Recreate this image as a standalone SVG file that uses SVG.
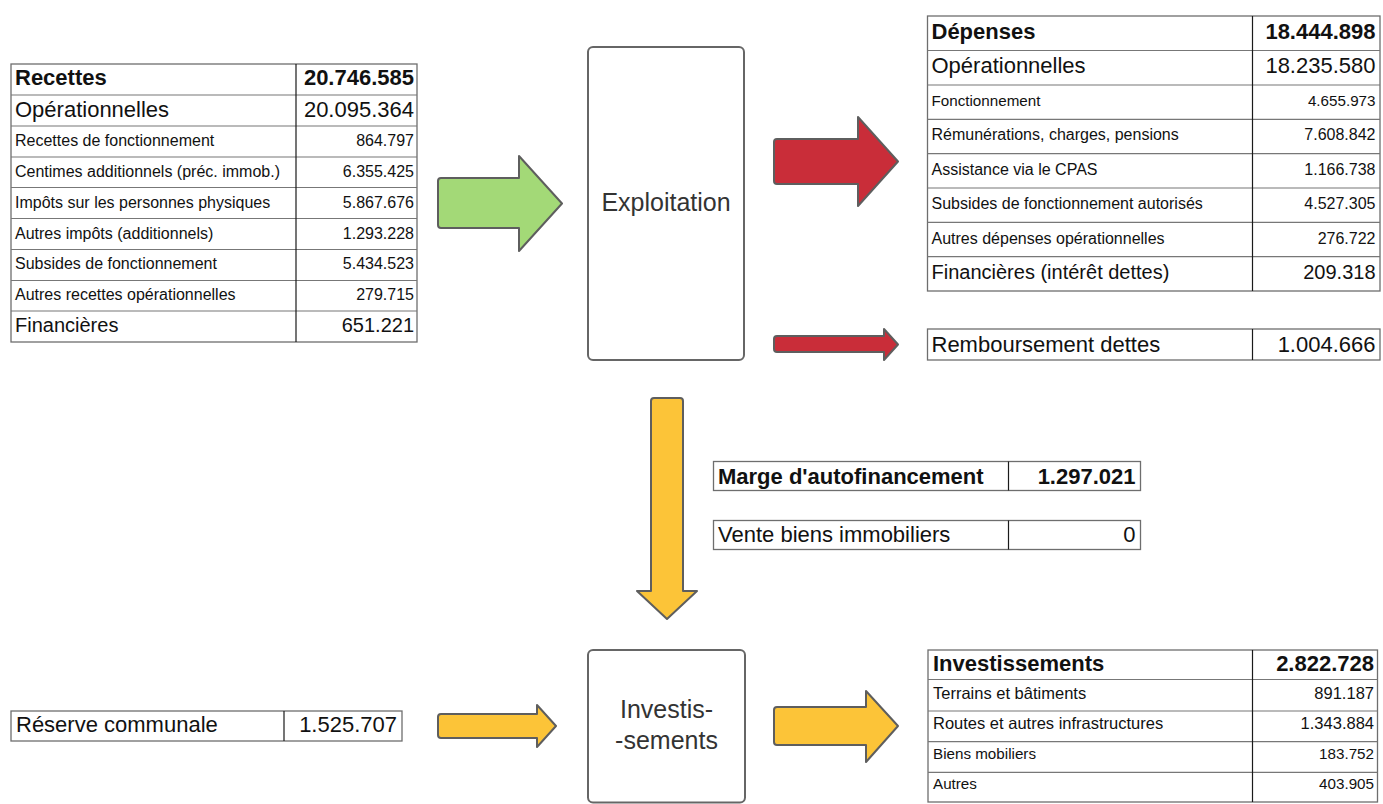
<svg xmlns="http://www.w3.org/2000/svg" width="1383" height="804" viewBox="0 0 1383 804">
<style>
text{font-family:"Liberation Sans",Arial,sans-serif;fill:#111}
.b{font-weight:bold}
.r{text-anchor:end}
.c{text-anchor:middle;fill:#333}
.f22{font-size:22px}
.f20{font-size:20px}
.f16{font-size:16px}
.f15{font-size:15.2px}
.f165{font-size:16.5px}
.f25{font-size:25px}
.outer{fill:#fff;stroke:#6e6e6e;stroke-width:1.3}
.row{stroke:#777;stroke-width:1.2}
.split{stroke:#1a1a1a;stroke-width:1.2}
.box{fill:#fff;stroke:#666;stroke-width:2}
.arrow{stroke:#5e5e5e;stroke-width:2;stroke-linejoin:round}
.green{fill:#a3d977}
.red{fill:#c92d39}
.yellow{fill:#fcc438}
</style>

<g id="connectors">
<path class="arrow green" d="M441,178 L519,178 L519,156 L562,203.5 L519,251 L519,228 L441,228 Q438,228 438,225 L438,181 Q438,178 441,178 Z"/>
<path class="arrow red" d="M777,139 L858,139 L858,117 L898,161.5 L858,206 L858,184 L777,184 Q774,184 774,181 L774,142 Q774,139 777,139 Z"/>
<path class="arrow red" d="M777,336 L884,336 L884,329 L898,344.5 L884,360 L884,352 L777,352 Q774,352 774,349 L774,339 Q774,336 777,336 Z"/>
<path class="arrow yellow" d="M654,398 L680,398 Q683,398 683,401 L683,591 L697,591 L667,619 L637,591 L651,591 L651,401 Q651,398 654,398 Z"/>
<path class="arrow yellow" d="M441,714 L537,714 L537,705 L556,726 L537,747 L537,738 L441,738 Q438,738 438,735 L438,717 Q438,714 441,714 Z"/>
<path class="arrow yellow" d="M777,707 L866,707 L866,691 L898,726 L866,762 L866,745 L777,745 Q774,745 774,742 L774,710 Q774,707 777,707 Z"/>
</g>

<g id="recettes">
<rect class="outer" x="11" y="64" width="406" height="278"/>
<path class="row" d="M11,95H417M11,126H417M11,157H417M11,187.5H417M11,218.5H417M11,249.5H417M11,280.5H417M11,311H417"/>
<path class="split" d="M296,64V342"/>
<text class="b f22" x="15" y="85">Recettes</text><text class="b f22 r" x="414" y="85">20.746.585</text>
<text class="f22" x="15" y="117">Opérationnelles</text><text class="f22 r" x="414" y="117">20.095.364</text>
<text class="f16" x="15" y="146">Recettes de fonctionnement</text><text class="f16 r" x="414" y="146">864.797</text>
<text class="f16" x="15" y="177">Centimes additionnels (préc. immob.)</text><text class="f16 r" x="414" y="177">6.355.425</text>
<text class="f16" x="15" y="208">Impôts sur les personnes physiques</text><text class="f16 r" x="414" y="208">5.867.676</text>
<text class="f16" x="15" y="238.5">Autres impôts (additionnels)</text><text class="f16 r" x="414" y="238.5">1.293.228</text>
<text class="f16" x="15" y="269">Subsides de fonctionnement</text><text class="f16 r" x="414" y="269">5.434.523</text>
<text class="f16" x="15" y="300">Autres recettes opérationnelles</text><text class="f16 r" x="414" y="300">279.715</text>
<text class="f20" x="15" y="332">Financières</text><text class="f20 r" x="414" y="332">651.221</text>
</g>

<g id="exploitation">
<rect class="box" x="588" y="47" width="156" height="313" rx="5"/>
<text class="c f25" x="666" y="211">Exploitation</text>
</g>

<g id="depenses">
<rect class="outer" x="927.5" y="16" width="452.5" height="275"/>
<path class="row" d="M927.5,50.5H1380M927.5,85H1380M927.5,119.3H1380M927.5,153.7H1380M927.5,188H1380M927.5,222.4H1380M927.5,256.7H1380"/>
<path class="split" d="M1252.5,16V291"/>
<text class="b f22" x="931.5" y="38.5">Dépenses</text><text class="b f22 r" x="1375.5" y="38.5">18.444.898</text>
<text class="f22" x="931.5" y="73">Opérationnelles</text><text class="f22 r" x="1375.5" y="73">18.235.580</text>
<text class="f15" x="931.5" y="106">Fonctionnement</text><text class="f15 r" x="1375.5" y="106">4.655.973</text>
<text class="f16" x="931.5" y="140">Rémunérations, charges, pensions</text><text class="f16 r" x="1375.5" y="140">7.608.842</text>
<text class="f16" x="931.5" y="174.5">Assistance via le CPAS</text><text class="f16 r" x="1375.5" y="174.5">1.166.738</text>
<text class="f16" x="931.5" y="209">Subsides de fonctionnement autorisés</text><text class="f16 r" x="1375.5" y="209">4.527.305</text>
<text class="f16" x="931.5" y="243.5">Autres dépenses opérationnelles</text><text class="f16 r" x="1375.5" y="243.5">276.722</text>
<text class="f20" x="931.5" y="278.5">Financières (intérêt dettes)</text><text class="f20 r" x="1375.5" y="278.5">209.318</text>
</g>

<g id="remboursement">
<rect class="outer" x="927.5" y="329" width="452.5" height="31"/>
<path class="split" d="M1252.5,329V360"/>
<text class="f22" x="931.5" y="352">Remboursement dettes</text><text class="f22 r" x="1375.5" y="352">1.004.666</text>
</g>

<g id="marge">
<rect class="outer" x="713.5" y="461.5" width="427" height="29"/>
<path class="split" d="M1008.5,461.5V490.5"/>
<text class="b f22" x="718" y="483.5">Marge d'autofinancement</text><text class="b f22 r" x="1135.5" y="483.5">1.297.021</text>
</g>

<g id="vente">
<rect class="outer" x="713.5" y="520.5" width="427" height="29"/>
<path class="split" d="M1008.5,520.5V549.5"/>
<text class="f22" x="718" y="542">Vente biens immobiliers</text><text class="f22 r" x="1135.5" y="542">0</text>
</g>

<g id="reserve">
<rect class="outer" x="11" y="711" width="391" height="30"/>
<path class="split" d="M284,711V741"/>
<text class="f22" x="16" y="732">Réserve communale</text><text class="f22 r" x="397" y="732">1.525.707</text>
</g>

<g id="investissements-node">
<rect class="box" x="588" y="650" width="157" height="152.5" rx="5"/>
<text class="c f25" x="666.5" y="718">Investis-</text>
<text class="c f25" x="666.5" y="748.5">-sements</text>
</g>

<g id="investissements">
<rect class="outer" x="928" y="650" width="449.5" height="152"/>
<path class="row" d="M928,679.5H1377.5M928,711H1377.5M928,741.7H1377.5M928,772.3H1377.5"/>
<path class="split" d="M1252.5,650V802"/>
<text class="b f22" x="933" y="671">Investissements</text><text class="b f22 r" x="1374" y="671">2.822.728</text>
<text class="f165" x="933" y="699">Terrains et bâtiments</text><text class="f165 r" x="1374" y="699">891.187</text>
<text class="f165" x="933" y="728.5">Routes et autres infrastructures</text><text class="f165 r" x="1374" y="728.5">1.343.884</text>
<text class="f15" x="933" y="758.5">Biens mobiliers</text><text class="f15 r" x="1374" y="758.5">183.752</text>
<text class="f15" x="933" y="789">Autres</text><text class="f15 r" x="1374" y="789">403.905</text>
</g>
</svg>
